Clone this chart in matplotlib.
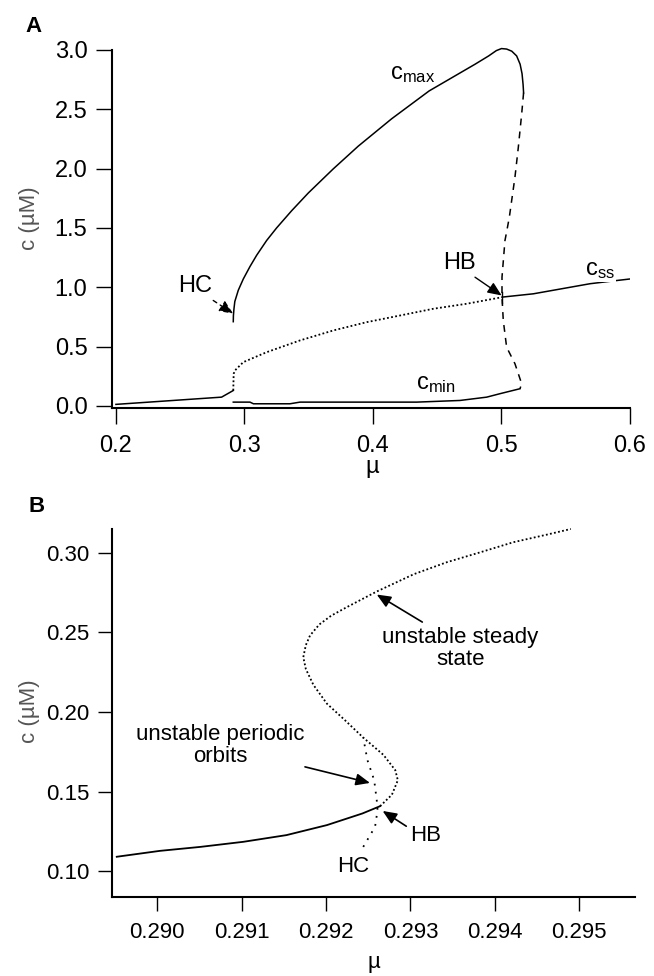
import numpy as np
import matplotlib
matplotlib.use('Agg')
from matplotlib import pyplot as plt

plt.rcParams['font.family'] = ['Liberation Sans', 'DejaVu Sans']
plt.rcParams['mathtext.fontset'] = 'custom'
plt.rcParams['mathtext.rm'] = 'Liberation Sans'
plt.rcParams['mathtext.it'] = 'Liberation Sans:italic'

# ---- panel A data ----
ss_lo_mu = [0.200, 0.2822, 0.2913]
ss_lo_c = [0.013, 0.074, 0.130]
ss_un_mu = [0.2913, 0.2916, 0.2926, 0.2991, 0.3173, 0.3432, 0.3691, 0.3951, 0.421, 0.447, 0.4729, 0.4998]
ss_un_c = [0.130, 0.270, 0.299, 0.369, 0.453, 0.552, 0.636, 0.706, 0.762, 0.819, 0.861, 0.915]
ss_hi_mu = [0.5004, 0.5248, 0.5689, 0.5897, 0.600]
ss_hi_c = [0.917, 0.945, 1.030, 1.057, 1.070]
cmax_mu = [0.2913, 0.2914, 0.2918, 0.2925, 0.2952, 0.2991, 0.3043, 0.3095, 0.3173, 0.3250,
           0.3367, 0.3497, 0.3691, 0.3886, 0.4145, 0.4437, 0.4794, 0.4900, 0.4960, 0.5000,
           0.5040, 0.5080, 0.5118, 0.5145, 0.5160, 0.5168, 0.5172]
cmax_c = [0.710, 0.760, 0.815, 0.880, 0.975, 1.070, 1.175, 1.270, 1.395, 1.500,
          1.645, 1.795, 1.998, 2.190, 2.420, 2.655, 2.880, 2.950, 2.995, 3.012,
          3.008, 2.990, 2.950, 2.880, 2.800, 2.710, 2.640]
upo_mu = [0.5172, 0.5157, 0.5131, 0.5105, 0.5061, 0.5037, 0.5027, 0.5004, 0.5004, 0.5014, 0.5040, 0.5105, 0.5157, 0.5144]
upo_c = [2.640, 2.460, 2.180, 1.930, 1.590, 1.450, 1.394, 1.085, 0.917, 0.720, 0.495, 0.355, 0.187, 0.145]
cmin_mu = [0.2913, 0.3043, 0.3070, 0.3354, 0.3432, 0.4340, 0.4677, 0.4885, 0.4988, 0.5144]
cmin_c = [0.032, 0.032, 0.018, 0.018, 0.032, 0.032, 0.046, 0.074, 0.103, 0.145]

# ---- panel B data ----
b_st_mu = [0.28952, 0.29003, 0.29051, 0.29102, 0.29153, 0.29201, 0.29243, 0.29264]
b_st_c = [0.1090, 0.1127, 0.1152, 0.1184, 0.1226, 0.1289, 0.1362, 0.1408]
b_un_mu = [0.29264, 0.29278, 0.29285, 0.29282, 0.29268, 0.29244, 0.29222, 0.29201, 0.29185, 0.29176,
           0.29173, 0.29176, 0.29181, 0.29192, 0.29206, 0.29225, 0.29260, 0.29304, 0.29343, 0.29383,
           0.29422, 0.29462, 0.29490]
b_un_c = [0.1408, 0.1480, 0.1571, 0.1634, 0.1730, 0.1839, 0.1950, 0.2052, 0.2170, 0.2270,
          0.2344, 0.2420, 0.2481, 0.2550, 0.2605, 0.2660, 0.2757, 0.2866, 0.2941, 0.3004,
          0.3067, 0.3115, 0.3150]
b_po_mu = [0.29244, 0.29258, 0.29261, 0.29260, 0.29257, 0.29249, 0.29244]
b_po_c = [0.1152, 0.1278, 0.1383, 0.1446, 0.1571, 0.1697, 0.1839]

a_xticks = [0.2, 0.3, 0.4, 0.5, 0.6]
a_yticks = [0.0, 0.5, 1.0, 1.5, 2.0, 2.5, 3.0]
b_xticks = [0.290, 0.291, 0.292, 0.293, 0.294, 0.295]
b_yticks = [0.10, 0.15, 0.20, 0.25, 0.30]

W, H = 654, 976
fig = plt.figure(figsize=(W / 100, H / 100), dpi=100)


def style(ax, tlen, fs):
    ax.spines['top'].set_visible(False)
    ax.spines['right'].set_visible(False)
    ax.spines['left'].set_linewidth(1.5)
    ax.spines['bottom'].set_linewidth(1.5)
    ax.tick_params(direction='out', length=tlen, width=1.0, labelsize=fs, pad=6)
    ax.tick_params(axis='x', pad=8)


dotted = (0, (1, 1.3))

# ---------- A ----------
axA = fig.add_axes([111.7 / W, 1 - 407.7 / H, (630 - 111.7) / W, (407.7 - 50) / H])
style(axA, 11.5, 17)
axA.plot(ss_lo_mu, ss_lo_c, 'k-', lw=1.1)
axA.plot(ss_un_mu, ss_un_c, 'k', lw=1.3, linestyle=dotted)
axA.plot(ss_hi_mu, ss_hi_c, 'k-', lw=1.1)
axA.plot(cmax_mu, cmax_c, 'k-', lw=1.1, clip_on=False)
axA.plot(upo_mu, upo_c, 'k', lw=1.1, dashes=(4.5, 4))
axA.plot(cmin_mu, cmin_c, 'k-', lw=1.1)
axA.plot([0.5004, 0.5004], [0.87, 0.96], 'k-', lw=1.0)
axA.set_xlim(0.1967, 0.6)
axA.set_ylim(-0.015, 3.0)
axA.set_xticks(a_xticks)
axA.set_xticklabels(['0.2', '0.3', '0.4', '0.5', '0.6'])
axA.set_yticks(a_yticks)
axA.set_yticklabels(['0.0', '0.5', '1.0', '1.5', '2.0', '2.5', '3.0'])

wb = dict(facecolor='white', edgecolor='none', pad=0.5)
axA.text(0.4132, 2.757, r'c$_{\mathrm{max}}$', fontsize=17, ha='left', va='baseline', bbox=wb, zorder=5)
axA.text(0.5650, 1.10, r'c$_{\mathrm{ss}}$', fontsize=17, ha='left', va='baseline', bbox=wb, zorder=5)
axA.text(0.4335, 0.145, r'c$_{\mathrm{min}}$', fontsize=17, ha='left', va='baseline', zorder=5)
axA.text(0.2619, 1.01, 'HC', fontsize=17, ha='center', va='center')
axA.text(0.4672, 1.203, 'HB', fontsize=17, ha='center', va='center')
axA.annotate('', xy=(0.2913, 0.777), xytext=(0.2757, 0.889),
             arrowprops=dict(arrowstyle='-|>,head_length=0.7,head_width=0.3', color='k',
                             lw=1.0, linestyle=(0, (3, 3)), shrinkA=0, shrinkB=0, mutation_scale=12))
axA.annotate('', xy=(0.5001, 0.931), xytext=(0.4794, 1.085),
             arrowprops=dict(arrowstyle='-|>,head_length=0.7,head_width=0.3', color='k',
                             lw=1.0, shrinkA=0, shrinkB=0, mutation_scale=12))

# ---------- B ----------
axB = fig.add_axes([111.7 / W, 1 - 896.7 / H, (635 - 111.7) / W, (896.7 - 529.3) / H])
style(axB, 10, 16)
axB.plot(b_st_mu, b_st_c, 'k-', lw=1.3)
axB.plot(b_un_mu, b_un_c, 'k', lw=1.3, linestyle=dotted, clip_on=False)
axB.plot(b_po_mu, b_po_c, 'k', lw=1.3, linestyle=(0, (1, 3.5)))
axB.set_xlim(0.28946, 0.29566)
axB.set_ylim(0.0839, 0.3148)
axB.set_xticks(b_xticks)
axB.set_xticklabels(['0.290', '0.291', '0.292', '0.293', '0.294', '0.295'])
axB.set_yticks(b_yticks)
axB.set_yticklabels(['0.10', '0.15', '0.20', '0.25', '0.30'])

axB.text(0.29359, 0.240, 'unstable steady\nstate', fontsize=16, ha='center', va='center', linespacing=1.05)
axB.text(0.29075, 0.1791, 'unstable periodic\norbits', fontsize=16, ha='center', va='center', linespacing=1.05)
axB.text(0.29300, 0.1226, 'HB', fontsize=16, ha='left', va='center')
axB.text(0.29232, 0.1027, 'HC', fontsize=16, ha='center', va='center')
hd = dict(arrowstyle='-|>,head_length=0.7,head_width=0.3', color='k', lw=1.2,
          shrinkA=0, shrinkB=0, mutation_scale=12)
axB.annotate('', xy=(0.29260, 0.2738), xytext=(0.29314, 0.2565), arrowprops=hd)
axB.annotate('', xy=(0.29252, 0.1554), xytext=(0.29175, 0.1655), arrowprops=hd)
axB.annotate('', xy=(0.29267, 0.1378), xytext=(0.29295, 0.1282), arrowprops=hd)

# labels
fig.text(33 / W, 1 - 26 / H, 'A', fontsize=16, fontweight='bold', ha='center', va='center')
fig.text(37 / W, 1 - 506 / H, 'B', fontsize=16, fontweight='bold', ha='center', va='center')
fig.text(29 / W, 1 - 218 / H, 'c (µM)', fontsize=16, rotation=90, ha='center', va='center', color='#555555')
fig.text(29 / W, 1 - 711 / H, 'c (µM)', fontsize=16, rotation=90, ha='center', va='center', color='#555555')
fig.text(372 / W, 1 - 456 / H, 'µ', fontsize=17, ha='center', va='top')
fig.text(374 / W, 1 - 952 / H, 'µ', fontsize=16, ha='center', va='top')

fig.savefig('out.png', dpi=100)
